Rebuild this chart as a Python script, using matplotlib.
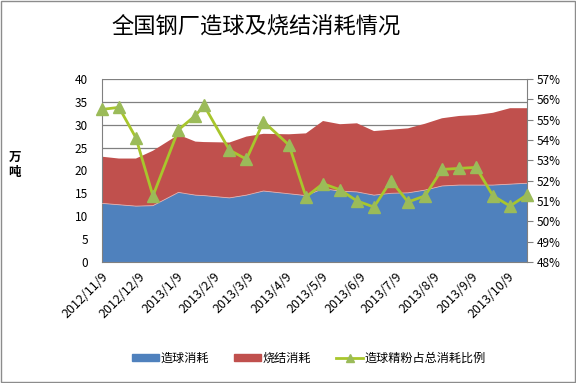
import datetime as dt
import matplotlib
matplotlib.use("Agg")
import matplotlib.pyplot as plt
from matplotlib.patches import Rectangle, Patch
from matplotlib.lines import Line2D
from matplotlib.ticker import FuncFormatter, MultipleLocator

plt.rcParams['font.family'] = ['Noto Sans CJK SC', 'DejaVu Sans']

# survey dates (fortnightly, Fridays)
dates = ["2012-11-09", "2012-11-23", "2012-12-07", "2012-12-21", "2013-01-11",
         "2013-01-25", "2013-02-01", "2013-02-22", "2013-03-08", "2013-03-22",
         "2013-04-12", "2013-04-26", "2013-05-10", "2013-05-24", "2013-06-07",
         "2013-06-21", "2013-07-05", "2013-07-19", "2013-08-02", "2013-08-16",
         "2013-08-30", "2013-09-13", "2013-09-27", "2013-10-11", "2013-10-25"]

# 万吨
pellet = [12.8, 12.5, 12.2, 12.3, 15.2, 14.6, 14.5, 14.0, 14.6, 15.5, 14.9, 14.5, 16.0,
          15.5, 15.3, 14.6, 15.0, 15.1, 15.7, 16.6, 16.8, 16.8, 16.8, 17.0, 17.2]
sinter = [10.2, 10.1, 10.4, 12.0, 12.6, 11.7, 11.7, 12.1, 12.8, 12.5, 13.0, 13.6, 14.8,
          14.6, 15.0, 14.0, 13.9, 14.1, 14.5, 14.8, 15.1, 15.3, 15.8, 16.6, 16.4]
# 造球精粉占总消耗比例 (%)
ratio = [55.5, 55.6, 54.1, 51.25, 54.5, 55.2, 55.7, 53.5, 53.05, 54.9, 53.75, 51.2, 51.85,
         51.55, 51.0, 50.7, 52.0, 50.95, 51.25, 52.55, 52.6, 52.65, 51.25, 50.75, 51.3]

x = [dt.datetime.strptime(d, "%Y-%m-%d") for d in dates]
tick_dates = [dt.datetime(2012 + (10 + i) // 12, (10 + i) % 12 + 1, 9) for i in range(12)]

blue = '#4F81BD'
red = '#C0504D'
green_line = '#A8C62C'
green_mk = '#9BBB59'
gray = '#808080'

fig = plt.figure(figsize=(5.76, 3.83), dpi=100)
fig.patches.append(Rectangle((0.001, 0.002), 0.997, 0.995, transform=fig.transFigure,
                             fill=False, edgecolor='#8C8C8C', lw=1.0))

ax = fig.add_axes([0.177, 0.316, 0.738, 0.478])
ax.stackplot(x, pellet, sinter, colors=[blue, red], zorder=2)
ax.plot(x, pellet, color='#E0B0B0', lw=0.6, zorder=3)
ax.set_ylim(0, 40)
ax.set_xlim(x[0], x[-1])
ax.yaxis.set_major_locator(MultipleLocator(5))
ax.grid(axis='y', color=gray, lw=0.9, zorder=1)
ax.set_axisbelow(True)
for s in ['top', 'right']:
    ax.spines[s].set_visible(False)
for s in ['left', 'bottom']:
    ax.spines[s].set_color(gray)
ax.tick_params(axis='y', length=0, labelsize=8.5, pad=10)
ax.set_xticks(tick_dates)
ax.set_xticklabels([f"{d.year}/{d.month}/{d.day}" for d in tick_dates],
                   rotation=45, ha='right', rotation_mode='anchor', fontsize=9)
ax.tick_params(axis='x', length=0, pad=6)
ax.set_ylabel("万\n吨", rotation=0, fontsize=9, fontweight='bold', va='center')
ax.yaxis.set_label_coords(-0.205, 0.53)

ax2 = ax.twinx()
ax2.plot(x, ratio, color=green_line, lw=2, marker='^', markersize=8,
         markerfacecolor=green_mk, markeredgecolor=green_mk, clip_on=False, zorder=5)
ax2.set_ylim(48, 57)
ax2.yaxis.set_major_locator(MultipleLocator(1))
ax2.yaxis.set_major_formatter(FuncFormatter(lambda v, p: f"{v:.0f}%"))
for s in ['top', 'left', 'bottom']:
    ax2.spines[s].set_visible(False)
ax2.spines['right'].set_color(gray)
ax2.tick_params(axis='y', direction='out', length=4, color=gray, labelsize=8.5, pad=3)

fig.text(0.444, 0.928, "全国钢厂造球及烧结消耗情况", ha='center', va='center', fontsize=16)

handles = [Patch(color=blue, label='造球消耗'),
           Patch(color=red, label='烧结消耗'),
           Line2D([], [], color=green_line, lw=2, marker='^', markersize=6,
                  markerfacecolor=green_mk, markeredgecolor=green_mk, label='造球精粉占总消耗比例')]
fig.legend(handles=handles, loc='center', bbox_to_anchor=(0.536, 0.065), ncol=3,
           frameon=False, fontsize=8.7, handlelength=2.25, handleheight=0.6,
           columnspacing=2.1, handletextpad=0.1)

fig.savefig("out.png", dpi=100)
